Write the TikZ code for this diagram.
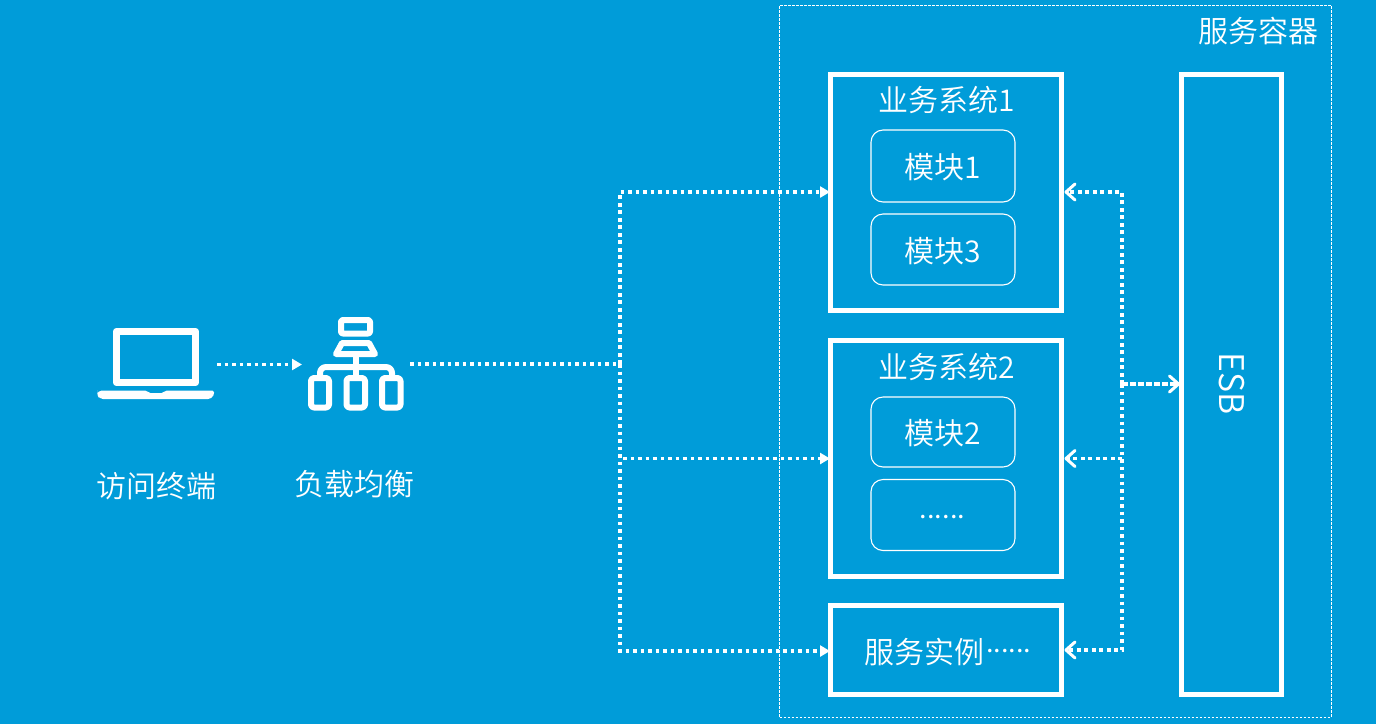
\documentclass[tikz,border=0pt]{standalone}
\usepackage{fontspec}
\setmainfont{Noto Sans CJK SC DemiLight}
\usetikzlibrary{arrows.meta}
\definecolor{bgblue}{HTML}{009CD9}
\tikzset{
  x=1pt,y=-1pt,
  txt/.style={inner sep=0pt,outer sep=0pt,text=white,font=\fontsize{30}{32}\selectfont},
  syspanel/.style={draw=white,line width=5pt,inner sep=0pt,outer sep=0pt},
  module/.style={draw=white,line width=1.1pt,rounded corners=12pt,inner sep=0pt,outer sep=0pt,anchor=north west,text=white,align=center},
  dotline/.style={draw=white,line width=3.6pt,dash pattern=on 3.7pt off 3.8pt},
  solidtip/.style={-{Triangle[length=10pt,width=11pt,fill=white]}},
  opentip/.style={-{Straight Barb[length=9pt,width=16pt,line width=3pt,round]}},
}
\newcommand{\boxnode}[6]{\node[#1,anchor=north west,minimum width=#4pt,minimum height=#5pt] (#2) at #3 {#6};}
\begin{document}
\begin{tikzpicture}
\useasboundingbox (0,0) rectangle (1376,724);
\fill[bgblue] (0,0) rectangle (1376,724);

% service container
\node[draw=white,line width=0.8pt,dash pattern=on 2.5pt off 1.5pt,inner sep=0pt,outer sep=0pt,anchor=north west,minimum width=551.5pt,minimum height=712pt] (container) at (779.5,5) {};
\node[txt,anchor=east] (containerlabel) at (1318,31) {服务容器};

% business systems
\boxnode{syspanel}{sys1}{(830,74.5)}{231.5}{235.5}{}
\boxnode{syspanel}{sys2}{(830,340.5)}{231.5}{235.5}{}
\boxnode{syspanel}{inst}{(830,605.5)}{231.5}{89}{}
\boxnode{syspanel}{esb}{(1181,74.5)}{100}{619.5}{}

\node[txt] (sys1label) at (946.5,100) {业务系统1};
\node[txt] (sys2label) at (946.5,367) {业务系统2};
\node[txt,anchor=west] (instlabel) at (864,652) {服务实例};
\node[txt,anchor=base west,font=\fontsize{28}{30}\selectfont] (instdots) at (986,652.5) {......};
\node[txt,rotate=-90,font=\fontsize{34}{36}\selectfont] (esblabel) at (1232,384) {ESB};

% modules
\node[module,minimum width=144pt,minimum height=72pt] (m1) at (871,130) {};
\node[txt] at ([yshift=-1.5pt]m1.center) {模块1};
\node[module,minimum width=144pt,minimum height=71pt] (m3) at (871,214) {};
\node[txt] at ([yshift=-1.5pt]m3.center) {模块3};
\node[module,minimum width=144pt,minimum height=70pt] (m2) at (871,397) {};
\node[txt] at ([yshift=-1pt]m2.center) {模块2};
\node[module,minimum width=144pt,minimum height=71pt] (m4) at (871,479.5) {};
\node[txt,anchor=base,font=\fontsize{28}{30}\selectfont] at (942.5,518) {......};

% laptop icon
\node[minimum width=117pt,minimum height=72pt,inner sep=0pt] (laptop) at (155.5,363.5) {};
\draw[white,line width=7.5pt,line join=round] (116.5,331.5) rectangle (195.5,382.5);
\fill[white,rounded corners=1.5pt,even odd rule] (97.3,390.7) -- (147,390.7) -- (149,393) -- (163,393) -- (165,390.7) -- (214,390.7) -- (214,394) [rounded corners=4pt] -- (212,399) -- (99,399) -- (97.3,394) -- cycle;

% load balancer icon
\node[minimum width=95pt,minimum height=93pt,inner sep=0pt] (lb) at (355.5,363.5) {};
\begin{scope}[white,line width=6pt,line join=round]
\draw[rounded corners=2pt] (341,320) rectangle (370,333.5);
\draw (336,354) -- (342,343) -- (369,343) -- (375,354) -- cycle;
\draw (356,354) -- (356,378);
\draw[rounded corners=6pt] (320,378) -- (320,367) -- (392,367) -- (392,378);
\draw[rounded corners=3pt] (311,378) rectangle (329,407.5);
\draw[rounded corners=3pt] (346.5,378) rectangle (365,407.5);
\draw[rounded corners=3pt] (382,378) rectangle (400.5,407.5);
\end{scope}

\node[txt] (laptoplabel) at (156,486) {访问终端};
\node[txt] (lblabel) at (354,484.5) {负载均衡};

% connector anchors
\coordinate (split) at (620,364);
\coordinate (splitA) at (620,192);
\coordinate (splitC) at (620,651);
\coordinate (bus) at (1122,384);
\coordinate (busA) at (1122,192);
\coordinate (busC) at (1122,650);

\draw[dotline,solidtip] (217,364.5) -- (302,364.5);
\draw[dotline] (410,364) -- (split);
\draw[dotline,solidtip] (split) -- (splitA) -- (sys1.west |- splitA);
\draw[dotline,solidtip] (split) |- (sys2.west |- 0,458.5);
\draw[dotline,solidtip] (split) -- (splitC) -- (inst.west |- splitC);

\draw[dotline,opentip] (bus) -- (busA) -- ([xshift=3pt]sys1.east |- busA);
\draw[dotline,opentip] (1122,458.5) -- ([xshift=3pt]sys2.east |- 0,458.5);
\draw[dotline,opentip] (bus) -- (busC) -- ([xshift=3pt]inst.east |- busC);
\draw[draw=white,line width=3.6pt,dash pattern=on 6pt off 2pt,opentip] (bus) -- ([xshift=-1pt]esb.west |- bus);
\end{tikzpicture}
\end{document}
